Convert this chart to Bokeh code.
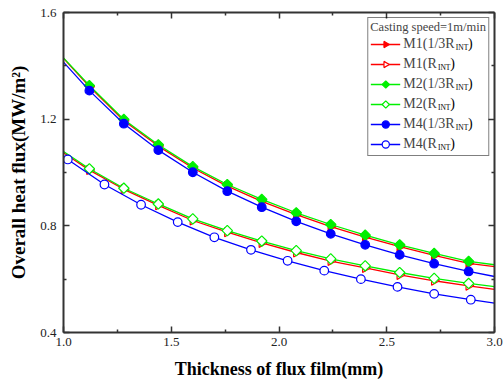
import math
from bokeh.plotting import figure
from bokeh.models import (Legend, LegendItem, LinearAxis, Label, Range1d, ColumnDataSource,
                          FixedTicker, CustomJSTickFormatter, PrintfTickFormatter)
from bokeh.embed import file_html
from bokeh.resources import INLINE

# ---------------- data ----------------
thickness = [1.0, 1.12, 1.28, 1.44, 1.60, 1.76, 1.92, 2.08, 2.24, 2.40, 2.56, 2.72, 2.88, 3.0]
m1_third = [1.428, 1.322, 1.194, 1.099, 1.017, 0.949, 0.892, 0.842, 0.797, 0.758, 0.722, 0.689, 0.659, 0.647]
m1_r     = [1.074, 1.009, 0.937, 0.877, 0.820, 0.776, 0.736, 0.700, 0.668, 0.642, 0.616, 0.594, 0.575, 0.562]
m2_third = [1.430, 1.326, 1.199, 1.104, 1.022, 0.955, 0.899, 0.849, 0.805, 0.765, 0.729, 0.697, 0.667, 0.654]
m2_r     = [1.079, 1.014, 0.941, 0.882, 0.826, 0.782, 0.743, 0.707, 0.676, 0.650, 0.625, 0.603, 0.584, 0.572]
m4_third = [1.414, 1.307, 1.183, 1.084, 1.001, 0.930, 0.870, 0.817, 0.770, 0.729, 0.691, 0.658, 0.629, 0.610]
thickness_m4r = [1.0, 1.02, 1.19, 1.36, 1.53, 1.70, 1.87, 2.04, 2.21, 2.38, 2.55, 2.72, 2.89, 3.0]
m4_r     = [1.058, 1.049, 0.955, 0.879, 0.814, 0.757, 0.710, 0.669, 0.632, 0.600, 0.571, 0.545, 0.523, 0.510]

series_names = ["M1(1/3R", "M1(R", "M2(1/3R", "M2(R", "M4(1/3R", "M4(R"]
legend_title = "Casting speed=1m/min"
x_ticks = [1.0, 1.5, 2.0, 2.5, 3.0]
x_minor = [1.25, 1.75, 2.25, 2.75]
y_ticks = [0.4, 0.8, 1.2, 1.6]
y_minor = [0.6, 1.0, 1.4]
X0, X1, Y0, Y1 = 1.0, 3.0, 0.4, 1.6

RED, GREEN, BLUE = "#ff0000", "#00f000", "#0000ff"
FONT = "Liberation Serif"
AXC = "#333333"

p = figure(width=503, height=385, x_range=Range1d(X0, X1), y_range=Range1d(Y0, Y1),
           output_backend="svg", toolbar_location=None,
           min_border_left=63, min_border_right=9, min_border_top=12, min_border_bottom=53)
p.xgrid.visible = False
p.ygrid.visible = False
p.outline_line_color = None

def style_axis(ax, labels=True):
    ax.axis_line_color = AXC
    ax.axis_line_width = 2
    ax.major_tick_in = 6
    ax.major_tick_out = 0
    ax.minor_tick_in = 3
    ax.minor_tick_out = 0
    ax.major_tick_line_color = AXC
    ax.minor_tick_line_color = AXC
    ax.major_tick_line_width = 1.5
    ax.minor_tick_line_width = 1.5
    ax.major_label_text_font = FONT
    ax.major_label_text_font_size = "13px"
    ax.major_label_text_color = "#222222"
    ax.axis_label_text_font = FONT
    ax.axis_label_text_font_style = "bold"
    ax.axis_label_text_color = "black"
    if labels:
        ax.formatter = PrintfTickFormatter(format="%.1f")
    else:
        ax.formatter = CustomJSTickFormatter(code="return ''")
        ax.major_label_standoff = 0

p.xaxis.ticker = FixedTicker(ticks=x_ticks, minor_ticks=x_minor)
p.yaxis.ticker = FixedTicker(ticks=y_ticks, minor_ticks=y_minor)
style_axis(p.xaxis[0])
style_axis(p.yaxis[0])
p.xaxis.axis_label = "Thickness of flux film(mm)"
p.yaxis.axis_label = "Overall heat flux(MW/m²)"
p.xaxis.axis_label_text_font_size = "18px"
p.yaxis.axis_label_text_font_size = "19px"
p.xaxis.major_label_standoff = 5
p.yaxis.major_label_standoff = 7
p.xaxis.axis_label_standoff = 10
p.yaxis.axis_label_standoff = 8

top = LinearAxis(ticker=FixedTicker(ticks=x_ticks, minor_ticks=x_minor))
right = LinearAxis(ticker=FixedTicker(ticks=y_ticks, minor_ticks=y_minor))
style_axis(top, labels=False)
style_axis(right, labels=False)
p.add_layout(top, "above")
p.add_layout(right, "right")

# ---------------- series ----------------
try:
    from bokeh.models import Ngon
    HAVE_NGON = True
except Exception:
    HAVE_NGON = False

specs = [
    (thickness, m1_third, RED, 3, RED, 5.2),
    (thickness, m1_r, RED, 3, "white", 5.2),
    (thickness, m2_third, GREEN, 4, GREEN, 5.2),
    (thickness, m2_r, GREEN, 4, "white", 5.2),
    (thickness, m4_third, BLUE, 0, BLUE, 4.3),
    (thickness_m4r, m4_r, BLUE, 0, "white", 4.3),
]
items = []
for name, (xs, ys, col, nside, fill, rad) in zip(series_names, specs):
    ln = p.line(xs, ys, line_color=col, line_width=1.3)
    mx, my = xs[1:-1], ys[1:-1]
    if nside == 0:
        sc = p.scatter(mx, my, marker="circle", size=2 * rad, line_color=col,
                       fill_color=fill, line_width=1.2)
    elif HAVE_NGON:
        src = ColumnDataSource(dict(x=mx, y=my))
        g = Ngon(x="x", y="y", radius=rad, radius_units="screen", n=nside,
                 angle=(-math.pi / 2 if nside == 3 else 0),
                 line_color=col, fill_color=fill, line_width=1.2)
        sc = p.add_glyph(src, g)
    else:
        mk = "triangle" if nside == 3 else "diamond"
        sc = p.scatter(mx, my, marker=mk, size=2 * rad, line_color=col,
                       fill_color=fill, line_width=1.2)
    items.append(LegendItem(label=name, renderers=[ln, sc]))

legend = Legend(items=items, title=legend_title, location="top_right",
                margin=5, padding=2, spacing=2, glyph_width=30, glyph_height=18,
                label_height=18, label_standoff=3, label_text_font=FONT,
                label_text_font_size="14px", title_text_font=FONT,
                title_text_font_size="12.5px", title_text_font_style="normal",
                title_standoff=0, border_line_color="black", border_line_width=1,
                background_fill_color="white", background_fill_alpha=0)
p.add_layout(legend)

# subscripts "INT" and closing bracket, placed after each legend label
frame_w, frame_h = 431, 320
label_x0 = 341.0   # px from frame left where legend label text starts
base_w = {"M1(1/3R": 51.3, "M1(R": 33.4, "M2(1/3R": 51.3, "M2(R": 33.4,
          "M4(1/3R": 51.3, "M4(R": 33.4}

def to_data(sx, sy_from_top):
    return (X0 + sx / frame_w * (X1 - X0), Y1 - sy_from_top / frame_h * (Y1 - Y0))

for i, name in enumerate(series_names):
    yc = 31 + 20 * i
    sx = label_x0 + base_w[name]
    ax_, ay_ = to_data(sx, yc + 4)
    bx_, by_ = to_data(sx + 12.3, yc)
    p.add_layout(Label(x=ax_, y=ay_, text="INT", text_font=FONT, text_font_size="7.5px",
                       text_baseline="middle", text_color="black", level="overlay"))
    p.add_layout(Label(x=bx_, y=by_, text=")", text_font=FONT, text_font_size="14px",
                       text_baseline="middle", text_color="black", level="overlay"))

open("out.html", "w").write(file_html(p, INLINE))
